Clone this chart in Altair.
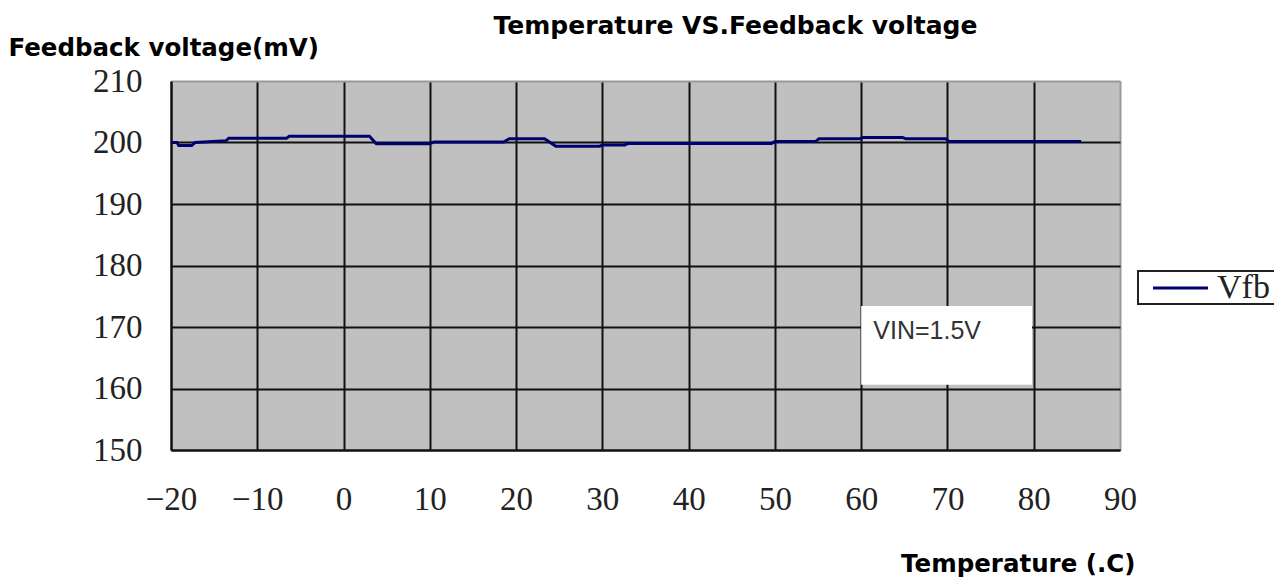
import altair as alt
import pandas as pd

# ---- data ----
temperature = [-20, -19.3, -19.1, -17.6, -17.2, -16.2, -13.6, -13.3, -6.6, -6.3, 3.0, 3.8,
               10.0, 10.5, 18.6, 19.2, 23.3, 24.6, 29.7, 30.0, 32.6, 33.0, 49.6, 50.0,
               54.7, 55.1, 59.8, 60.2, 64.8, 65.2, 69.8, 70.2, 85.5]
vfb = [200.0, 200.0, 199.5, 199.5, 200.0, 200.1, 200.3, 200.7, 200.7, 201.0, 201.0, 199.8,
       199.8, 200.1, 200.1, 200.6, 200.6, 199.4, 199.4, 199.6, 199.6, 199.85, 199.85, 200.15,
       200.15, 200.6, 200.6, 200.8, 200.8, 200.6, 200.6, 200.15, 200.15]
x_ticks = [-20, -10, 0, 10, 20, 30, 40, 50, 60, 70, 80, 90]
y_ticks = [150, 160, 170, 180, 190, 200, 210]
series_name = ["Vfb"]
note_text = ["VIN=1.5V"]
note_box_x = [60.0, 79.8]
note_box_y = [160.6, 173.4]
note_label_at = [61.4, 168.0]

df = pd.DataFrame({"Temperature": temperature, "Vfb": vfb})
note_df = pd.DataFrame({"x0": [note_box_x[0]], "x1": [note_box_x[1]],
                        "y0": [note_box_y[0]], "y1": [note_box_y[1]],
                        "tx": [note_label_at[0]], "ty": [note_label_at[1]],
                        "label": note_text})
legend_df = pd.DataFrame({"series": series_name})

x_scale = alt.Scale(domain=[-20, 90], nice=False, zero=False)
y_scale = alt.Scale(domain=[150, 210], nice=False, zero=False)

grid_x = {"condition": {"test": "datum.value >= 90", "value": "#9a9a9a"}, "value": "#111111"}
grid_y = {"condition": {"test": "datum.value >= 210", "value": "#9a9a9a"}, "value": "#111111"}

x_axis = alt.Axis(values=x_ticks, title="Temperature (.C)", titleX=964, titleY=121,
                  titleAlign="right", titleBaseline="alphabetic", titleFont="DejaVu Sans",
                  titleFontWeight="bold", titleFontSize=24.5, titleColor="black",
                  labelFont="Liberation Serif", labelFontSize=33, labelColor="#222222",
                  labelPadding=33, ticks=False, domainColor="#111111", domainWidth=2,
                  gridColor=grid_x, gridWidth=2, labelFlush=False)
y_axis = alt.Axis(values=y_ticks, title="Feedback voltage(mV)", titleAngle=0, titleX=-163,
                  titleY=-26, titleAlign="left", titleBaseline="alphabetic",
                  titleFont="DejaVu Sans", titleFontWeight="bold", titleFontSize=24.5,
                  titleColor="black", labelFont="Liberation Serif", labelFontSize=33,
                  labelColor="#222222", labelPadding=29, ticks=False, domainColor="#111111",
                  domainWidth=2, gridColor=grid_y, gridWidth=2, labelFlush=False)

note_rect = alt.Chart(note_df).mark_rect(fill="white").encode(
    x=alt.X("x0:Q", scale=x_scale, axis=x_axis), x2="x1",
    y=alt.Y("y0:Q", scale=y_scale, axis=y_axis), y2="y1")
note_label = alt.Chart(note_df).mark_text(
    align="left", baseline="alphabetic", font="Liberation Sans", fontSize=25,
    color="#333333").encode(
    x=alt.X("tx:Q", scale=x_scale, axis=x_axis),
    y=alt.Y("ty:Q", scale=y_scale, axis=y_axis), text="label:N")

line = alt.Chart(df).mark_line(color="#000070", strokeWidth=3).encode(
    x=alt.X("Temperature:Q", scale=x_scale, axis=x_axis),
    y=alt.Y("Vfb:Q", scale=y_scale, axis=y_axis))

legend_box = alt.Chart(legend_df).mark_rect(fill="white", stroke="#222222", strokeWidth=2).encode(
    x=alt.value(967), x2=alt.value(1106), y=alt.value(190), y2=alt.value(223))
legend_line = alt.Chart(legend_df).mark_rule(color="#000070", strokeWidth=3).encode(
    x=alt.value(982), x2=alt.value(1037), y=alt.value(207))
legend_text = alt.Chart(legend_df).mark_text(
    align="left", baseline="alphabetic", font="Liberation Serif", fontSize=34,
    color="#222222").encode(x=alt.value(1046), y=alt.value(217), text="series:N")

chart = alt.layer(note_rect, note_label, line, legend_box, legend_line, legend_text).properties(
    width=949, height=369, autosize="none",
    padding={"left": 163, "top": 73, "right": 154, "bottom": 128},
    title=alt.TitleParams("Temperature VS.Feedback voltage", font="DejaVu Sans", fontSize=25,
                          fontWeight="bold", color="black", anchor="middle", frame="group",
                          dx=90, dy=4, offset=0),
).configure_view(fill="#c0c0c0", stroke="#9a9a9a", strokeWidth=1)

chart.save("out.html", embed_options={"renderer": "svg", "actions": False})
